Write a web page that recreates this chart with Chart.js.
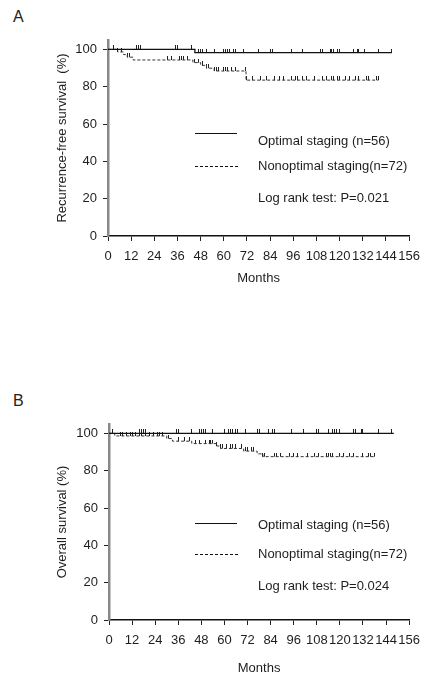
<!DOCTYPE html>
<html lang="en">
<head>
<meta charset="UTF-8">
<title>Kaplan-Meier curves</title>
<script src="https://cdn.jsdelivr.net/npm/chart.js"></script>
<style>
    * { margin: 0; padding: 0; box-sizing: border-box; }
    body {
        width: 428px;
        height: 676px;
        background: #fff;
        position: relative;
        overflow: hidden;
        font-family: 'Liberation Sans', Arial, sans-serif;
    }
    .panel-label {
        position: absolute;
        left: 13px;
        font-size: 16px;
        color: #222;
    }
    .chart-box {
        position: absolute;
        left: 0;
        width: 428px;
    }
</style>
</head>
<body>
<div class="panel-label" style="top:8px">A</div>
<div class="chart-box" style="top:0;height:300px"><canvas id="rfs"></canvas></div>
<div class="panel-label" style="top:392px">B</div>
<div class="chart-box" style="top:384px;height:292px"><canvas id="os"></canvas></div>

<script>
    // axis ticks
    const xTicks = [0, 12, 24, 36, 48, 60, 72, 84, 96, 108, 120, 132, 144, 156];
    const yTicks = [0, 20, 40, 60, 80, 100];

    // A - recurrence-free survival (step times in months, survival %)
    const rfsOptTimes = [0, 45, 147];
    const rfsOptSurv = [100, 98.2, 98.2];
    const rfsOptCensor = [3, 15, 16, 17, 35, 36, 43, 47, 48, 49, 51, 55, 60, 61, 62, 63, 65, 66, 70, 78, 84, 85,
        95, 101, 110, 111, 115, 116, 117, 119, 120, 127, 129, 130, 133, 140, 147];
    const rfsNonTimes = [0, 5, 8, 10, 13, 44, 48, 51, 55, 71.5, 140];
    const rfsNonSurv = [100, 98.6, 97.2, 95.8, 94.3, 92.9, 91.4, 89.9, 88.4, 83.5, 83.5];
    const rfsNonCensor = [5, 7, 10, 11, 31, 33, 37, 38, 39, 41, 45, 47, 49, 51, 52, 55, 56, 57, 60, 61, 62, 64, 66,
        71, 72, 75, 79, 82, 86, 89, 91, 95, 97, 98, 101, 103, 107, 111, 113, 116, 117, 119, 120, 123, 125, 128,
        130, 134, 135, 139, 140];

    // B - overall survival
    const osOptTimes = [0, 148];
    const osOptSurv = [100, 100];
    const osOptCensor = [2, 16, 17, 18, 19, 35, 36, 43, 47, 48, 49, 50, 54, 60, 62, 63, 64, 66, 67, 71, 77, 78,
        83, 85, 86, 95, 101, 108, 109, 114, 116, 117, 118, 120, 127, 128, 131, 132, 140, 147];
    const osNonTimes = [0, 3, 30, 33, 43, 56, 58, 70, 77, 80, 138];
    const osNonSurv = [100, 98.6, 97.2, 95.8, 94.5, 93.2, 91.9, 90.5, 89.0, 87.5, 87.5];
    const osNonCensor = [6, 7, 9, 11, 12, 14, 16, 17, 19, 21, 23, 25, 26, 28, 31, 36, 39, 42, 45, 47, 50, 52, 53,
        54, 56, 58, 59, 61, 63, 64, 66, 69, 71, 72, 74, 75, 80, 81, 86, 87, 89, 94, 96, 98, 103, 107, 109, 113,
        114, 115, 116, 120, 122, 125, 127, 132, 135, 136, 138];

    const FONT = { family: "'Liberation Sans', Arial, sans-serif", size: 13 };
    const INK = '#1e1e1e';

    function stepPoints(times, surv) {
        return times.map((t, i) => ({ x: t, y: surv[i] }));
    }

    function survAt(times, surv, t) {
        let s = surv[0];
        for (let i = 0; i < times.length; i++) {
            if (times[i] <= t) s = surv[i];
        }
        return s;
    }

    function censorPoints(censor, times, surv) {
        return censor.map(t => ({ x: t, y: survAt(times, surv, t) }));
    }

    // small upward tick used as censoring mark
    function censorMark(h) {
        const c = document.createElement('canvas');
        c.width = 1;
        c.height = h * 2;
        const g = c.getContext('2d');
        g.fillStyle = '#222';
        g.fillRect(0, 0, 1, h);
        return c;
    }
    const mark = censorMark(4);

    const kmLegend = {
        id: 'kmLegend',
        afterDraw(chart, args, opts) {
            const ctx = chart.ctx;
            ctx.save();
            ctx.font = "13px 'Liberation Sans', Arial, sans-serif";
            ctx.fillStyle = INK;
            ctx.textBaseline = 'middle';
            ctx.strokeStyle = '#111';

            ctx.lineWidth = 1;
            ctx.setLineDash([]);
            ctx.beginPath();
            ctx.moveTo(195, opts.optLine + 0.5);
            ctx.lineTo(237, opts.optLine + 0.5);
            ctx.stroke();
            ctx.fillText('Optimal staging (n=56)', 258, opts.optText);

            ctx.setLineDash([3, 2]);
            ctx.beginPath();
            ctx.moveTo(195, opts.nonLine + 0.5);
            ctx.lineTo(238, opts.nonLine + 0.5);
            ctx.stroke();
            ctx.fillText('Nonoptimal staging(n=72)', 258, opts.nonLine);

            ctx.fillText(opts.test, 258, opts.testY);
            ctx.restore();
        }
    };

    function makeChart(id, cfg) {
        new Chart(document.getElementById(id), {
            data: {
                datasets: [
                    {
                        type: 'line',
                        data: stepPoints(cfg.optTimes, cfg.optSurv),
                        stepped: true,
                        borderColor: '#111',
                        borderWidth: 1.3,
                        pointRadius: 0,
                        fill: false
                    },
                    {
                        type: 'line',
                        data: stepPoints(cfg.nonTimes, cfg.nonSurv),
                        stepped: true,
                        borderColor: '#333',
                        borderWidth: 1,
                        borderDash: [3, 2],
                        pointRadius: 0,
                        fill: false
                    },
                    {
                        type: 'scatter',
                        data: censorPoints(cfg.optCensor, cfg.optTimes, cfg.optSurv),
                        pointStyle: mark,
                        pointRadius: 1
                    },
                    {
                        type: 'scatter',
                        data: censorPoints(cfg.nonCensor, cfg.nonTimes, cfg.nonSurv),
                        pointStyle: mark,
                        pointRadius: 1
                    }
                ]
            },
            options: {
                responsive: true,
                maintainAspectRatio: false,
                animation: false,
                layout: { padding: { top: 40, right: 14.5, left: 0, bottom: 0 } },
                plugins: {
                    legend: { display: false },
                    tooltip: { enabled: false },
                    kmLegend: cfg.legend
                },
                scales: {
                    x: {
                        type: 'linear',
                        min: 0,
                        max: 156,
                        afterBuildTicks: s => { s.ticks = xTicks.map(v => ({ value: v })); },
                        afterFit: s => { s.height = cfg.xHeight; },
                        grid: { drawOnChartArea: false, tickLength: 5, color: '#222' },
                        border: { color: '#111', width: 1.5 },
                        ticks: { font: FONT, color: INK, padding: 8, maxRotation: 0, autoSkip: false },
                        title: {
                            display: true, text: 'Months', font: FONT, color: INK,
                            padding: { top: 0, bottom: cfg.titlePad }
                        }
                    },
                    y: {
                        min: 0,
                        max: 105,
                        afterBuildTicks: s => { s.ticks = yTicks.map(v => ({ value: v })); },
                        afterFit: s => { s.width = cfg.yWidth; },
                        grid: { drawOnChartArea: false, tickLength: 5, color: '#222' },
                        border: { color: '#888', width: 2.5 },
                        ticks: { font: FONT, color: INK, padding: 6 },
                        title: {
                            display: true, text: cfg.yTitle, font: FONT, color: INK,
                            padding: { top: 54.2, bottom: 0 }
                        }
                    }
                }
            },
            plugins: [kmLegend]
        });
    }

    makeChart('rfs', {
        optTimes: rfsOptTimes, optSurv: rfsOptSurv, optCensor: rfsOptCensor,
        nonTimes: rfsNonTimes, nonSurv: rfsNonSurv, nonCensor: rfsNonCensor,
        yTitle: 'Recurrence-free survival  (%)',
        yWidth: 108, xHeight: 64, titlePad: 14.2,
        legend: { optLine: 133, optText: 141, nonLine: 166, testY: 198, test: 'Log rank test: P=0.021' }
    });

    makeChart('os', {
        optTimes: osOptTimes, optSurv: osOptSurv, optCensor: osOptCensor,
        nonTimes: osNonTimes, nonSurv: osNonSurv, nonCensor: osNonCensor,
        yTitle: 'Overall survival (%)',
        yWidth: 109, xHeight: 56, titlePad: 0.2,
        legend: { optLine: 139, optText: 141, nonLine: 170, testY: 202, test: 'Log rank test: P=0.024' }
    });
</script>
</body>
</html>
